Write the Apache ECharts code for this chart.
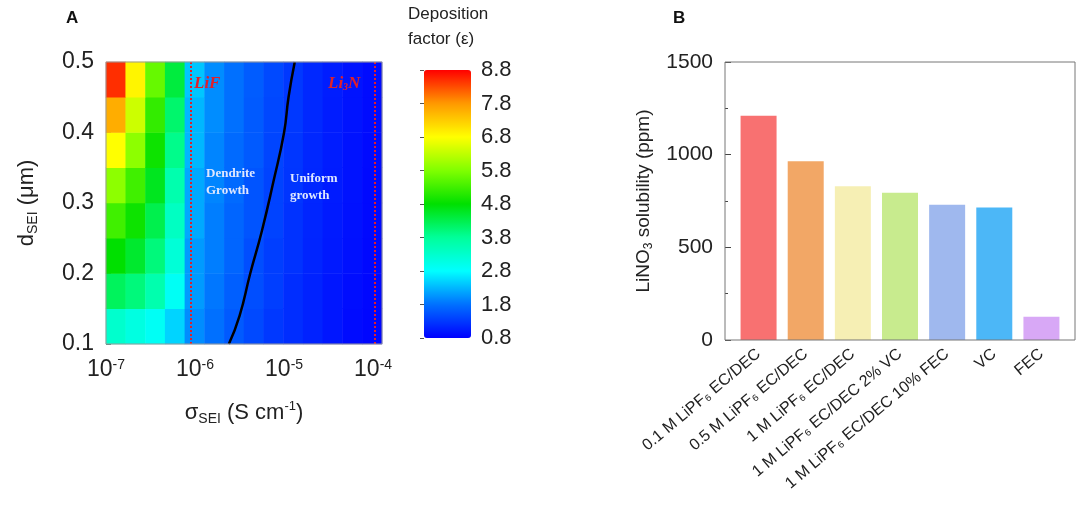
<!DOCTYPE html>
<html>
<head>
<meta charset="utf-8">
<script src="https://cdn.jsdelivr.net/npm/echarts@6/dist/echarts.min.js"></script>
</head>
<body style="margin:0;background:#fff">
<div id="main" style="width:1080px;height:522px;"></div>
<script>
// panel A: deposition factor map, rows bottom (d=0.125) to top (d=0.475), columns log10(sigma) -7 .. -3.9
var dRows = [0.125, 0.175, 0.225, 0.275, 0.325, 0.375, 0.425, 0.475];
var sigmaCols = [-6.89, -6.67, -6.45, -6.23, -6.01, -5.78, -5.56, -5.34, -5.12, -4.9, -4.68, -4.46, -4.24, -4.01];
var epsGrid = [
    [3.3, 3.1, 2.9, 2.5, 2.0, 1.8, 1.6, 1.45, 1.3, 1.2, 1.1, 1.0, 0.9, 0.85],
    [4.2, 4.0, 3.6, 2.9, 2.1, 1.85, 1.65, 1.5, 1.35, 1.2, 1.1, 1.0, 0.92, 0.86],
    [4.8, 4.5, 4.0, 3.2, 2.1, 1.9, 1.7, 1.5, 1.35, 1.25, 1.12, 1.02, 0.94, 0.87],
    [5.3, 4.9, 4.3, 3.4, 2.2, 1.9, 1.7, 1.55, 1.4, 1.25, 1.13, 1.03, 0.95, 0.88],
    [5.9, 5.3, 4.6, 3.6, 2.2, 1.95, 1.75, 1.55, 1.4, 1.27, 1.14, 1.04, 0.96, 0.88],
    [6.8, 5.9, 4.9, 3.9, 2.3, 1.95, 1.75, 1.6, 1.42, 1.28, 1.15, 1.05, 0.96, 0.89],
    [7.6, 6.4, 5.2, 4.1, 2.3, 2.0, 1.8, 1.6, 1.43, 1.3, 1.16, 1.05, 0.97, 0.9],
    [8.5, 6.9, 5.6, 4.4, 2.4, 2.0, 1.8, 1.62, 1.45, 1.3, 1.16, 1.06, 0.97, 0.9]
];
var boundaryLogSigma = [-5.62, -5.5, -5.38, -5.25, -5.12, -5.0, -4.95, -4.88];
var boundaryD = [0.1, 0.14, 0.2, 0.26, 0.33, 0.4, 0.45, 0.5];
var lifLogSigma = -6.05;
var li3nLogSigma = -3.98;

// panel B: LiNO3 solubility
var electrolytes = ['0.1 M LiPF₆ EC/DEC', '0.5 M LiPF₆ EC/DEC', '1 M LiPF₆ EC/DEC',
    '1 M LiPF₆ EC/DEC 2% VC', '1 M LiPF₆ EC/DEC 10% FEC', 'VC', 'FEC'];
var solubility = [1210, 965, 830, 795, 730, 715, 125];
var barColors = ['#f87171', '#f2a766', '#f6efb4', '#c8eb8e', '#9fb8ee', '#4cb7f7', '#d8a8f6'];

var heatData = [];
for (var r = 0; r < dRows.length; r++) {
    for (var c = 0; c < sigmaCols.length; c++) {
        heatData.push([c, r, epsGrid[r][c]]);
    }
}
var lineData = boundaryLogSigma.map(function (x, i) { return [x, boundaryD[i]]; });

var jet = ['#0000ff', '#0070ff', '#00ffff', '#00ff9a', '#00e000', '#80ff00', '#ffff00', '#ff9900', '#ff0000'];
var font = 'Arial, "Liberation Sans", sans-serif';
var serif = '"Liberation Serif", "DejaVu Serif", serif';

var myChart = echarts.init(document.getElementById('main'));
var option = {
    animation: false,
    grid: [
        {left: 106, top: 62, width: 276, height: 282},
        {left: 424, top: 70, width: 47, height: 268},
        {left: 735, top: 62, width: 330, height: 278}
    ],
    visualMap: {
        min: 0.8, max: 8.8, calculable: false, show: true, padding: 0,
        seriesIndex: 0, inRange: {color: jet},
        left: 424, top: 70, itemWidth: 47, itemHeight: 268, text: null,
        showLabel: false, textGap: 0
    },
    xAxis: [
        {type: 'category', gridIndex: 0, data: sigmaCols, show: false},
        {type: 'value', gridIndex: 0, position: 'bottom', min: -7, max: -3.9, interval: 1,
            axisLine: {show: false}, splitLine: {show: false},
            axisTick: {show: false},
            axisLabel: {fontSize: 23, color: '#222', fontFamily: font, margin: 14,
                formatter: function (v) { return '10{s|' + v + '}'; },
                rich: {s: {fontSize: 14, verticalAlign: 'top', padding: [0, 0, 10, 0], fontFamily: font, color: '#222'}}},
            name: 'σ{sub|SEI} (S cm{sup|-1})', nameLocation: 'middle', nameGap: 56,
            nameTextStyle: {fontSize: 22, color: '#222', fontFamily: font,
                rich: {sub: {fontSize: 14, verticalAlign: 'bottom', padding: [12, 0, 0, 0], fontFamily: font},
                    sup: {fontSize: 13, verticalAlign: 'top', padding: [0, 0, 10, 0], fontFamily: font}}}},
        {type: 'value', gridIndex: 1, show: false},
        {type: 'category', gridIndex: 2, data: electrolytes,
            axisLine: {show: false}, axisTick: {show: false},
            axisLabel: {rotate: 40, interval: 0, fontSize: 16, color: '#222', fontFamily: font, margin: 12}}
    ],
    yAxis: [
        {type: 'category', gridIndex: 0, data: dRows, show: false},
        {type: 'value', gridIndex: 0, position: 'left', min: 0.1, max: 0.5, interval: 0.1,
            axisLine: {show: false}, splitLine: {show: false},
            axisTick: {show: true, inside: true, length: 5, lineStyle: {color: '#666'}},
            minorTick: {show: true, splitNumber: 2, length: 3, lineStyle: {color: '#666'}},
            axisLabel: {fontSize: 23, color: '#222', fontFamily: font, margin: 12,
                formatter: function (v) { return v.toFixed(1); }},
            name: 'd{sub|SEI} (μm)', nameLocation: 'middle', nameGap: 66,
            nameTextStyle: {fontSize: 22, color: '#222', fontFamily: font,
                rich: {sub: {fontSize: 14, verticalAlign: 'bottom', padding: [12, 0, 0, 0], fontFamily: font}}}},
        {type: 'value', gridIndex: 1, min: 0, max: 8, interval: 1, position: 'right',
            axisLine: {show: false}, splitLine: {show: false},
            axisTick: {show: true, inside: true, length: 4, lineStyle: {color: '#555'}},
            axisLabel: {fontSize: 22, color: '#222', fontFamily: font, margin: 10,
                formatter: function (v) { return (v + 0.8).toFixed(1); }}},
        {type: 'value', gridIndex: 2, min: 0, max: 1500, interval: 500, offset: 10,
            axisLine: {show: false}, splitLine: {show: false},
            axisTick: {show: true, inside: true, length: 6, lineStyle: {color: '#444'}},
            minorTick: {show: true, splitNumber: 2, length: 3, lineStyle: {color: '#444'}},
            axisLabel: {fontSize: 21, color: '#222', fontFamily: font, margin: 12,
                formatter: function (v) { return String(v); }},
            name: 'LiNO{sub|3} solubility (ppm)', nameLocation: 'middle', nameGap: 70,
            nameTextStyle: {fontSize: 19, color: '#222', fontFamily: font,
                rich: {sub: {fontSize: 12, verticalAlign: 'bottom', padding: [10, 0, 0, 0], fontFamily: font}}}}
    ],
    series: [
        {type: 'heatmap', xAxisIndex: 0, yAxisIndex: 0, data: heatData, progressive: 0},
        {type: 'line', xAxisIndex: 1, yAxisIndex: 1, data: lineData, symbol: 'none', smooth: true,
            lineStyle: {color: '#000', width: 2.5}, z: 5,
            markLine: {symbol: 'none', silent: true, label: {show: false},
                lineStyle: {color: '#e0202a', type: 'dotted', width: 2},
                data: [{xAxis: lifLogSigma}, {xAxis: li3nLogSigma}]}},
        {type: 'bar', xAxisIndex: 3, yAxisIndex: 3, data: solubility.map(function (v, i) {
            return {value: v, itemStyle: {color: barColors[i]}};
        }), barWidth: 36}
    ],
    graphic: [
        {type: 'rect', shape: {x: 106, y: 62, width: 276, height: 282}, style: {fill: 'none', stroke: '#999', lineWidth: 1}, z: 100},
        {type: 'rect', shape: {x: 725, y: 62, width: 350, height: 278}, style: {fill: 'none', stroke: '#777', lineWidth: 1}, z: 100},
        {type: 'text', left: 66, top: 10, style: {text: 'A', font: 'bold 17px Arial', fill: '#111'}},
        {type: 'text', left: 673, top: 10, style: {text: 'B', font: 'bold 17px Arial', fill: '#111'}},
        {type: 'text', left: 408, top: 2, style: {text: 'Deposition\nfactor (ε)', font: '17px Arial', fill: '#222', align: 'center', lineHeight: 25}},
        {type: 'text', z: 100, left: 194, top: 75, style: {text: 'LiF', font: 'italic bold 17px ' + serif, fill: '#e0202a'}},
        {type: 'text', z: 100, left: 328, top: 75, style: {text: 'Li{s|3}N', font: 'italic bold 17px ' + serif, fill: '#e0202a',
            rich: {s: {fontSize: 10, verticalAlign: 'bottom', padding: [8, 0, 0, 0], fill: '#e0202a', fontStyle: 'italic', fontWeight: 'bold', fontFamily: serif}}}},
        {type: 'text', z: 100, left: 206, top: 165, style: {text: 'Dendrite\nGrowth', font: 'bold 13px ' + serif, fill: '#dfe8ff', align: 'center', lineHeight: 17}},
        {type: 'text', z: 100, left: 290, top: 170, style: {text: 'Uniform\ngrowth', font: 'bold 13px ' + serif, fill: '#dfe8ff', align: 'center', lineHeight: 17}}
    ]
};
myChart.setOption(option);
</script>
</body>
</html>
